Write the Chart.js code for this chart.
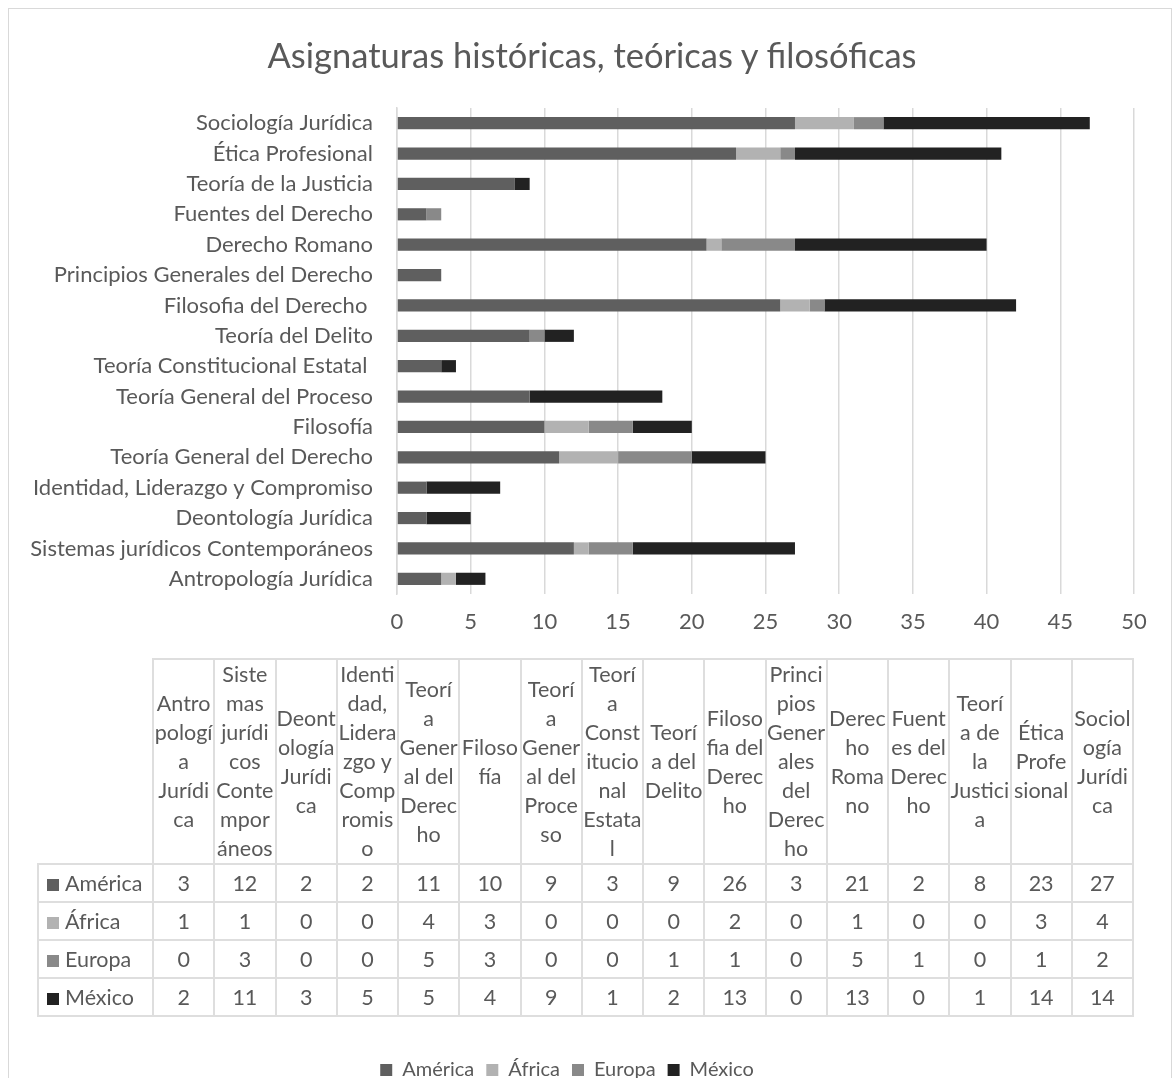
<!DOCTYPE html>
<html>
<head>
<meta charset="utf-8">
<script src="https://cdn.jsdelivr.net/npm/chart.js@4"></script>
<style>
  body { margin: 0; background: #fff; font-family: Lato, sans-serif; color: #595959; }
  #wrap { position: relative; width: 1174px; height: 1078px; overflow: hidden; }
  #frame { position: absolute; left: 8px; top: 8px; width: 1164px; height: 1100px; border: 1px solid #d9d9d9; box-sizing: border-box; }
  #chart { position: absolute; left: 0; top: 0; }
  #title { position: absolute; left: 0; top: 35px; width: 1184px; text-align: center; font-size: 34.5px; line-height: 40px; }
  #tbl { position: absolute; left: 37px; top: 658px; width: 1097px; border-collapse: collapse; table-layout: fixed; font-size: 21.5px; }
  #tbl td, #tbl th { border: 2px solid #dedede; text-align: center; font-weight: normal; padding: 0; }
  #tbl th { height: 203px; line-height: 29px; vertical-align: middle; white-space: pre; }
  #tbl th.corner { border: none; border-right: 2px solid #dedede; border-bottom: 2px solid #dedede; }
  #tbl td { height: 36px; }
  #tbl td.name { text-align: left; padding-left: 8px; white-space: nowrap; }
  .mk { display: inline-block; width: 12px; height: 12px; margin-right: 6px; vertical-align: 0px; }
</style>
</head>
<body>
<div id="wrap">
  <div id="frame"></div>
  <canvas id="chart" width="1174" height="1090"></canvas>
  <div id="title">Asignaturas históricas, teóricas y filosóficas</div>
  <table id="tbl"></table>
</div>
<script>
// data, in the order of the table (left to right); the chart shows it bottom to top
const categories = ['Antropología Jurídica', 'Sistemas jurídicos Contemporáneos', 'Deontología Jurídica',
  'Identidad, Liderazgo y Compromiso', 'Teoría General del Derecho', 'Filosofía', 'Teoría General del Proceso',
  'Teoría Constitucional Estatal ', 'Teoría del Delito', 'Filosofia del Derecho ', 'Principios Generales del Derecho',
  'Derecho Romano', 'Fuentes del Derecho', 'Teoría de la Justicia', 'Ética Profesional', 'Sociología Jurídica'];
// the same names as wrapped in the data table header
const tableHeaders = ['Antro\npologí\na\nJurídi\nca', 'Siste\nmas\njurídi\ncos\nConte\nmpor\náneos', 'Deont\nología\nJurídi\nca',
  'Identi\ndad,\nLidera\nzgo y\nComp\nromis\no', 'Teorí\na\nGener\nal del\nDerec\nho', 'Filoso\nfía', 'Teorí\na\nGener\nal del\nProce\nso',
  'Teorí\na\nConst\nitucio\nnal\nEstata\nl', 'Teorí\na del\nDelito', 'Filoso\nfia del\nDerec\nho', 'Princi\npios\nGener\nales\ndel\nDerec\nho',
  'Derec\nho\nRoma\nno', 'Fuent\nes del\nDerec\nho', 'Teorí\na de\nla\nJustici\na', 'Ética\nProfe\nsional', 'Sociol\nogía\nJurídi\nca'];
const america = [3, 12, 2, 2, 11, 10, 9, 3, 9, 26, 3, 21, 2, 8, 23, 27];
const africa  = [1, 1, 0, 0, 4, 3, 0, 0, 0, 2, 0, 1, 0, 0, 3, 4];
const europa  = [0, 3, 0, 0, 5, 3, 0, 0, 1, 1, 0, 5, 1, 0, 1, 2];
const mexico  = [2, 11, 3, 5, 5, 4, 9, 1, 2, 13, 0, 13, 0, 1, 14, 14];
const seriesNames = ['América', 'África', 'Europa', 'México'];
const seriesColors = ['#5f5f5f', '#b2b2b2', '#898989', '#222222'];
const xMin = 0, xMax = 50, xStep = 5;

const series = [america, africa, europa, mexico];
const txt = '#595959';
const font = { family: 'Lato', size: 22 };

new Chart(document.getElementById('chart'), {
  type: 'bar',
  data: {
    labels: categories,
    datasets: seriesNames.map((name, i) => ({
      label: name,
      data: series[i],
      backgroundColor: seriesColors[i],
      barPercentage: 0.4,
      categoryPercentage: 1
    }))
  },
  options: {
    indexAxis: 'y',
    responsive: false,
    animation: false,
    layout: { padding: { left: 0, right: 40, top: 108, bottom: 0 } },
    scales: {
      x: {
        stacked: true,
        min: xMin,
        max: xMax,
        ticks: { stepSize: xStep, color: txt, font: font, padding: 15 },
        grid: { color: '#d9d9d9', lineWidth: 1.5, drawTicks: false },
        border: { display: false },
        afterFit: (s) => { s.height = 454; }
      },
      y: {
        stacked: true,
        reverse: true,
        ticks: { color: txt, font: font, padding: 24 },
        grid: { display: false, drawTicks: false },
        border: { color: '#d9d9d9', width: 1.5 },
        afterFit: (s) => { s.width = 397; }
      }
    },
    plugins: {
      title: { display: false },
      legend: {
        position: 'bottom',
        labels: { boxWidth: 12, boxHeight: 12, color: txt, font: { family: 'Lato', size: 20 }, padding: 12 }
      },
      tooltip: { enabled: false }
    }
  }
});

// data table under the axis
let html = '<colgroup><col style="width:115px">' + categories.map(() => '<col>').join('') + '</colgroup>';
html += '<tr><th class="corner"></th>' + tableHeaders.map(c => '<th>' + c + '</th>').join('') + '</tr>';
seriesNames.forEach((name, i) => {
  html += '<tr><td class="name"><span class="mk" style="background:' + seriesColors[i] + '"></span>' + name + '</td>' +
    series[i].map(v => '<td>' + v + '</td>').join('') + '</tr>';
});
document.getElementById('tbl').innerHTML = html;
</script>
</body>
</html>
